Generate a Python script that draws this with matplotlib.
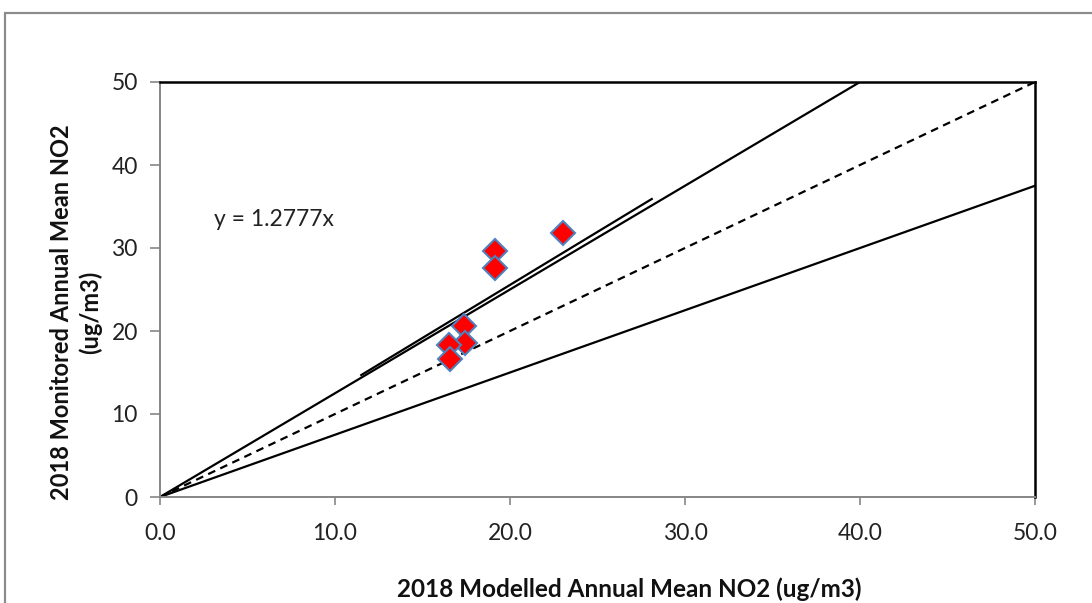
import matplotlib
matplotlib.use("Agg")
import matplotlib.pyplot as plt
from matplotlib.patches import Rectangle
import numpy as np

# Modelled vs monitored annual mean NO2 (ug/m3), 2018
modelled = [23.05, 19.14, 19.14, 17.37, 17.43, 16.51, 16.57]
monitored = [31.8, 29.6, 27.6, 20.6, 18.5, 18.3, 16.6]

trend_slope = 1.2777
trend_range = [11.5, 28.1]
axis_max = 50
x_ticks = [0, 10, 20, 30, 40, 50]
y_ticks = [0, 10, 20, 30, 40, 50]

FONT = ["Lato", "DejaVu Sans"]
W, H = 1092, 603
fig = plt.figure(figsize=(W / 100, H / 100), dpi=100)
ax = fig.add_axes([160 / W, 1 - 497 / H, (1035 - 160) / W, (497 - 82) / H])

# outer chart frame
fig.patches.append(Rectangle((5 / W, -0.1), 1.2, 1 - 13 / H + 0.1, transform=fig.transFigure,
                             fill=False, edgecolor="#8c8c8c", linewidth=1.6))

xs = np.array([0, axis_max], dtype=float)
ax.plot(xs, xs, color="black", linestyle=(0, (3.5, 2.5)), linewidth=1.6)
ax.plot(xs, 1.25 * xs, color="black", linewidth=1.6)
ax.plot(xs, 0.75 * xs, color="black", linewidth=1.6)
tx = np.array(trend_range)
ax.plot(tx, trend_slope * tx, color="black", linewidth=1.6)

ax.plot(modelled, monitored, linestyle="none", marker="D", markersize=12,
        markerfacecolor="#ff0000", markeredgecolor="#4f81bd", markeredgewidth=1.5, zorder=5)

ax.text(3.1, 33.4, f"y = {trend_slope}x", fontsize=16.5, family=FONT,
        ha="left", va="center", color="#222222")

ax.set_xlim(0, axis_max)
ax.set_ylim(0, axis_max)
ax.set_xticks(x_ticks)
ax.set_yticks(y_ticks)
ax.set_xticklabels([f"{v:.1f}" for v in x_ticks], family=FONT, fontsize=16.5, color="#222222")
ax.set_yticklabels([str(v) for v in y_ticks], family=FONT, fontsize=16.5, color="#222222")
ax.tick_params(axis="x", direction="out", length=6, width=1.2, color="#868686", pad=13)
ax.tick_params(axis="y", direction="out", length=7, width=1.2, color="#868686", pad=9)

for s in ("left", "bottom"):
    ax.spines[s].set_color("#868686")
    ax.spines[s].set_linewidth(1.4)
for s in ("top", "right"):
    ax.spines[s].set_color("black")
    ax.spines[s].set_linewidth(1.8)

fig.text(629 / W, 1 - 589 / H, "2018 Modelled Annual Mean NO2 (ug/m3)",
         family=FONT, fontweight="bold", fontsize=17.5,
         ha="center", va="center", color="#111111")
fig.text(76 / W, 1 - 312 / H, "2018 Monitored Annual Mean NO2\n(ug/m3)",
         family=FONT, fontweight="bold", fontsize=17, rotation=90,
         ha="center", va="center", multialignment="center", linespacing=1.25, color="#111111")

fig.savefig("out.png", dpi=100)
